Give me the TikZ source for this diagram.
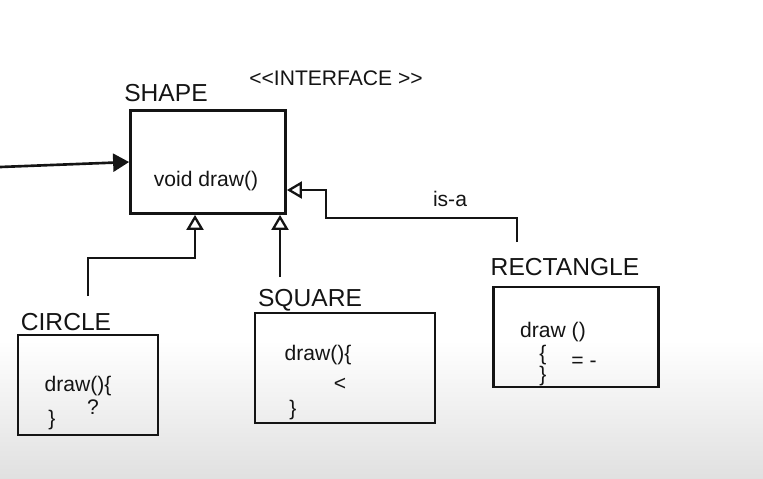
\documentclass[tikz,border=0pt]{standalone}
\usepackage{fontspec}
\setmainfont{Liberation Sans}
\usepackage{tikz}
\usetikzlibrary{arrows.meta,positioning,calc}
\definecolor{ink}{rgb}{0.08,0.08,0.08}

\begin{document}
\begin{tikzpicture}[
  x=0.02cm, y=-0.02cm,
  font=\fontsize{12}{14}\selectfont,
  cls/.style={draw=ink, line width=1.6pt, inner sep=0pt},
  lbl/.style={text=ink, font=\fontsize{14}{16}\selectfont, inner sep=1pt},
  code/.style={text=ink, inner sep=1pt},
  isa/.style={-{Triangle[open, length=3mm, width=3.4mm, line width=1.3pt]}, draw=ink, line width=1.5pt},
  arr/.style={-{Triangle[length=3.2mm, width=3.6mm]}, draw=ink, line width=1.5pt}
]
\useasboundingbox (0,0) rectangle (763,478);
\shade[top color=white, bottom color=black!12] (0,340) rectangle (763,478);

% --- interface ---
\node[cls, minimum width=3.1cm, minimum height=2.06cm] (shape) at (208,162) {};
\node[lbl] (shapelbl) at (166,93) {SHAPE};
\node[lbl, font=\fontsize{12}{14}\selectfont] (iface) at (336,78) {{<}{<}INTERFACE {>}{>}};
\node[code] (shapefn) at (206,181) {void draw()};

% --- implementing classes ---
\node[cls, minimum width=2.8cm, minimum height=2.0cm] (circle) at (88,385) {};
\node[lbl] (circlelbl) at (66,322) {CIRCLE};
\node[code] (circlefn) at (78,386) {draw()\{};
\node[code] (circleq) at (93,407) {?};
\node[code] (circlee) at (52,420) {\}};

\node[cls, minimum width=3.6cm, minimum height=2.2cm] (square) at (345,368) {};
\node[lbl] (squarelbl) at (310,300) {SQUARE};
\node[code] (squarefn) at (318,355) {draw()\{};
\node[code] (squarelt) at (340,384) {<};
\node[code] (squaree) at (293,410) {\}};

\node[cls, minimum width=3.3cm, minimum height=2.0cm] (rect) at (576,337) {};
\node[lbl] (rectlbl) at (565,267) {RECTANGLE};
\node[code] (rectfn) at (553,332) {draw ()};
\node[code] (rectb) at (543,355) {\{};
\node[code] (recteq) at (584,362) {= -};
\node[code] (recte) at (543,376) {\}};

% --- connectors ---
\coordinate (in) at (0,167);
\draw[arr] (in) -- (shape.west);

\coordinate (c0) at (88,296);
\coordinate (cj) at (195,258);
\draw[isa] (c0) |- (cj) -- (cj |- shape.south);

\coordinate (s0) at (280,277);
\draw[isa] (s0) -- (s0 |- shape.south);

\coordinate (r0) at (517,242);
\coordinate (rk) at (326,218);
\coordinate (ry) at (326,190);
\draw[isa] (r0) |- (rk) -- (ry) -- (shape.east |- ry);
\node[code] (isalbl) at (450,199) {is-a};

\end{tikzpicture}
\end{document}
